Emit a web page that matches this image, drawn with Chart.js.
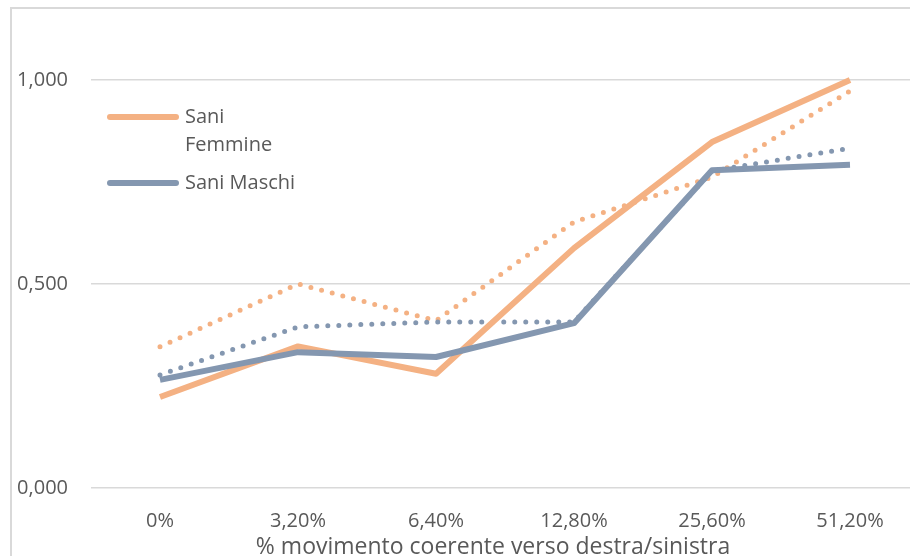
<!DOCTYPE html>
<html>
<head>
<meta charset="utf-8">
<script src="https://cdn.jsdelivr.net/npm/chart.js@4.4.1/dist/chart.umd.min.js"></script>
<style>
    html, body { margin: 0; padding: 0; background: #fff; overflow: hidden; }
    body { width: 910px; height: 556px; position: relative; }
    #frame {
        position: absolute; left: 10px; top: 7px; width: 940px; height: 600px;
        border-left: 2px solid #d9d9d9; border-top: 2px solid #d9d9d9;
    }
    #wrap { position: absolute; left: 0; top: 0; width: 925px; height: 561px; }
</style>
</head>
<body>
<div id="frame"></div>
<div id="wrap"><canvas id="lineChart"></canvas></div>
<script>
const categories = ["0%", "3,20%", "6,40%", "12,80%", "25,60%", "51,20%"];
const yTicks = [0, 0.5, 1.0];

const femmine = [0.223, 0.347, 0.280, 0.588, 0.848, 1.000];
const maschi = [0.265, 0.333, 0.321, 0.404, 0.779, 0.792];
const femmineTrend = [0.346, 0.500, 0.410, 0.652, 0.762, 0.973];
const maschiTrend = [0.277, 0.395, 0.407, 0.407, 0.777, 0.833];

const seriesNames = ["Sani Femmine", "Sani Maschi"];

const ORANGE = "#F4B183";
const BLUE = "#8497B0";
const TEXT = "#595959";
const FONT = "'Open Sans', sans-serif";

// legend drawn inside the plot, top left, wrapping long names
const insideLegend = {
    id: "insideLegend",
    afterDraw(chart) {
        const ctx = chart.ctx;
        ctx.save();
        ctx.font = "20px " + FONT;
        ctx.fillStyle = TEXT;
        ctx.textBaseline = "middle";
        let y = 117;
        chart.data.datasets.forEach(ds => {
            if (!ds.inLegend) return;
            ctx.strokeStyle = ds.borderColor;
            ctx.lineWidth = 6;
            ctx.lineCap = "round";
            ctx.beginPath();
            ctx.moveTo(110, y);
            ctx.lineTo(176, y);
            ctx.stroke();
            // simple word wrap
            const words = ds.label.split(" ");
            const lines = [];
            let line = "";
            words.forEach(w => {
                const test = line ? line + " " + w : w;
                if (line && ctx.measureText(test).width > 118) {
                    lines.push(line);
                    line = w;
                } else {
                    line = test;
                }
            });
            lines.push(line);
            lines.forEach((l, i) => ctx.fillText(l, 185, y + i * 28));
            y += lines.length * 28 + 10;
        });
        ctx.restore();
    }
};

function solid(label, data, color, order) {
    return {
        label: label, data: data, borderColor: color, backgroundColor: color,
        borderWidth: 6, pointRadius: 0, tension: 0, clip: false,
        borderJoinStyle: "round", order: order, inLegend: true
    };
}

function dotted(label, data, color, order) {
    return {
        label: label, data: data, borderColor: color, backgroundColor: color,
        borderWidth: 5, borderDash: [0, 11], borderCapStyle: "round",
        pointRadius: 0, tension: 0, clip: false, order: order, inLegend: false
    };
}

const ctx = document.getElementById("lineChart").getContext("2d");
new Chart(ctx, {
    type: "line",
    data: {
        labels: categories,
        datasets: [
            solid(seriesNames[0], femmine, ORANGE, 2),
            solid(seriesNames[1], maschi, BLUE, 1),
            dotted(seriesNames[0] + " (lineare)", femmineTrend, ORANGE, 4),
            dotted(seriesNames[1] + " (lineare)", maschiTrend, BLUE, 3)
        ]
    },
    options: {
        responsive: true,
        maintainAspectRatio: false,
        animation: false,
        layout: { padding: { left: 15, top: 80, right: 6, bottom: 0 } },
        plugins: {
            legend: { display: false },
            tooltip: { enabled: false }
        },
        scales: {
            x: {
                offset: true,
                afterFit: axis => { axis.height = 73; },
                grid: { display: false, drawTicks: false },
                border: { display: false },
                ticks: { color: TEXT, font: { family: FONT, size: 20 }, padding: 21, maxRotation: 0 },
                title: {
                    display: true,
                    text: "% movimento coerente verso destra/sinistra    ",
                    color: TEXT,
                    font: { family: FONT, size: 23 },
                    padding: { top: 4, bottom: 0 }
                }
            },
            y: {
                min: 0,
                max: 1,
                afterFit: axis => { axis.width = 76; },
                afterBuildTicks: axis => { axis.ticks = yTicks.map(v => ({ value: v })); },
                grid: { color: "#d9d9d9", lineWidth: 1.5, drawTicks: false },
                border: { display: false },
                ticks: {
                    color: TEXT,
                    font: { family: FONT, size: 20 },
                    padding: 23,
                    callback: v => v.toFixed(3).replace(".", ",")
                }
            }
        }
    },
    plugins: [insideLegend]
});
</script>
</body>
</html>
